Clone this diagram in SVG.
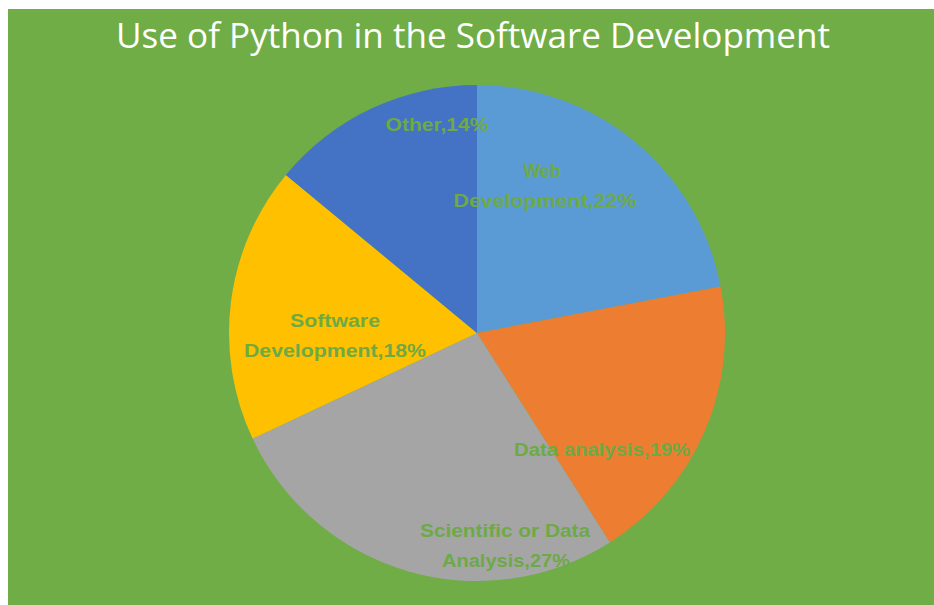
<svg xmlns="http://www.w3.org/2000/svg" width="934" height="605" viewBox="0 0 934 605">
  <style>
    .lbl { font-family: "Liberation Sans", "DejaVu Sans", sans-serif; font-weight: bold; font-size: 18px; fill: #6DAA45; text-anchor: middle; }
    .title { font-family: "Open Sans", "Liberation Sans", sans-serif; font-size: 34px; fill: #FFFFFF; text-anchor: middle; }
  </style>
  <rect x="0" y="0" width="934" height="605" fill="#FFFFFF"/>
  <rect x="8" y="9" width="926" height="596" fill="#70AD47"/>
  <text class="title" x="473" y="48" textLength="714" lengthAdjust="spacingAndGlyphs">Use of Python in the Software Development</text>
  <g id="slice-web">
    <path d="M477,333 L477,85 A248,248 0 0 1 720.61,286.53 Z" fill="#5B9BD5"/>
  </g>
  <g id="slice-data">
    <path d="M477,333 L720.61,286.53 A248,248 0 0 1 609.89,542.39 Z" fill="#ED7D31"/>
  </g>
  <g id="slice-scientific">
    <path d="M477,333 L609.89,542.39 A248,248 0 0 1 252.60,438.59 Z" fill="#A5A5A5"/>
  </g>
  <g id="slice-software">
    <path d="M477,333 L252.60,438.59 A248,248 0 0 1 285.91,174.92 Z" fill="#FFC000"/>
  </g>
  <g id="slice-other">
    <path d="M477,333 L285.91,174.92 A248,248 0 0 1 477,85 Z" fill="#4472C4"/>
  </g>
  <g id="labels">
    <text class="lbl" x="437" y="131" textLength="103" lengthAdjust="spacingAndGlyphs">Other,14%</text>
    <text class="lbl" x="542" y="177">Web</text>
    <text class="lbl" x="545" y="207" textLength="183" lengthAdjust="spacingAndGlyphs">Development,22%</text>
    <text class="lbl" x="335" y="327" textLength="90" lengthAdjust="spacingAndGlyphs">Software</text>
    <text class="lbl" x="335" y="357" textLength="182" lengthAdjust="spacingAndGlyphs">Development,18%</text>
    <text class="lbl" x="602" y="456" textLength="176" lengthAdjust="spacingAndGlyphs">Data analysis,19%</text>
    <text class="lbl" x="505" y="537" textLength="170" lengthAdjust="spacingAndGlyphs">Scientific or Data</text>
    <text class="lbl" x="506" y="567" textLength="128" lengthAdjust="spacingAndGlyphs">Analysis,27%</text>
  </g>
</svg>
